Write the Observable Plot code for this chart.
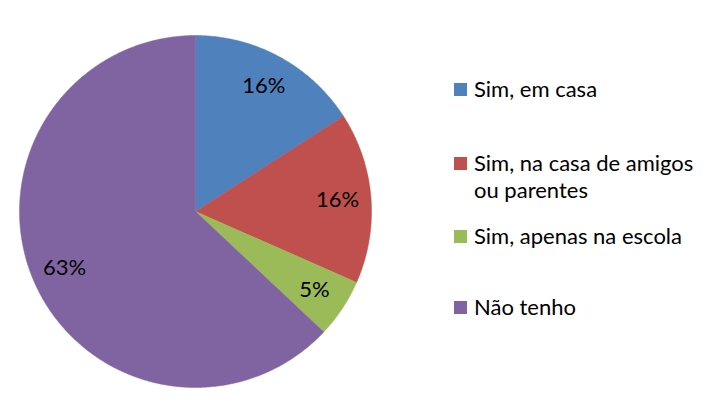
<!DOCTYPE html>
<html>
<head>
<meta charset="utf-8">
<script src="https://cdn.jsdelivr.net/npm/d3@7"></script>
<script src="https://cdn.jsdelivr.net/npm/@observablehq/plot@0.6"></script>
<style>
  html, body { margin: 0; padding: 0; background: #fff; }
  #wrap { position: relative; width: 707px; height: 411px; overflow: hidden; font-family: Lato, "Open Sans", sans-serif; }
  #chart { position: absolute; left: 0; top: 0; }
  .leg { position: absolute; left: 454px; display: flex; align-items: flex-start; font-size: 22px; color: #000; line-height: 27px; }
  .leg .sw { width: 13px; height: 13px; margin-top: 8px; margin-right: 7px; flex: none; }
</style>
</head>
<body>
<div id="wrap"><div id="chart"></div></div>
<script>
const categories = ["Sim, em casa", "Sim, na casa de amigos ou parentes", "Sim, apenas na escola", "Não tenho"];
const legendLines = [["Sim, em casa"], ["Sim, na casa de amigos", "ou parentes"], ["Sim, apenas na escola"], ["Não tenho"]];
const values = [15.9, 15.7, 5.4, 63.0];
const labels = ["16%", "16%", "5%", "63%"];
const colors = ["#4F81BD", "#C0504D", "#9BBB59", "#8064A2"];
const legendTops = [75, 149, 222, 293];

const pie = d3.pie().sort(null).value(d => d)(values);

// Build slice polygons in unit-circle coordinates (angle clockwise from top)
const polys = [];
pie.forEach((p, i) => {
  polys.push({key: categories[i], x: 0, y: 0});
  const n = Math.max(2, Math.ceil((p.endAngle - p.startAngle) / (Math.PI / 360)));
  for (let k = 0; k <= n; k++) {
    const a = p.startAngle + (p.endAngle - p.startAngle) * k / n;
    polys.push({key: categories[i], x: Math.sin(a), y: Math.cos(a)});
  }
  polys.push({key: categories[i], x: 0, y: 0});
});
const labelPts = pie.map((p, i) => {
  const a = (p.startAngle + p.endAngle) / 2;
  return {label: labels[i], x: 0.81 * Math.sin(a), y: 0.81 * Math.cos(a)};
});

const cx = 195, cy = 211, R = 176;
const chart = Plot.plot({
  width: 707,
  height: 411,
  margin: 0,
  x: {domain: [-1, 1], range: [cx - R, cx + R], axis: null},
  y: {domain: [-1, 1], range: [cy + R, cy - R], axis: null},
  color: {domain: categories, range: colors},
  style: {background: "transparent", fontFamily: "Lato, 'Open Sans', sans-serif"},
  marks: [
    Plot.line(polys, {x: "x", y: "y", z: "key", fill: "key", stroke: "key", strokeWidth: 0.5, curve: "linear-closed"}),
    Plot.text(labelPts, {x: "x", y: "y", text: "label", fontSize: 22, fill: "#000"})
  ]
});
document.getElementById("chart").appendChild(chart);

const wrap = document.getElementById("wrap");
legendLines.forEach((lines, i) => {
  const item = document.createElement("div");
  item.className = "leg";
  item.style.top = legendTops[i] + "px";
  const sw = document.createElement("div");
  sw.className = "sw";
  sw.style.background = colors[i];
  const txt = document.createElement("div");
  txt.innerHTML = lines.join("<br>");
  item.appendChild(sw);
  item.appendChild(txt);
  wrap.appendChild(item);
});
</script>
</body>
</html>
